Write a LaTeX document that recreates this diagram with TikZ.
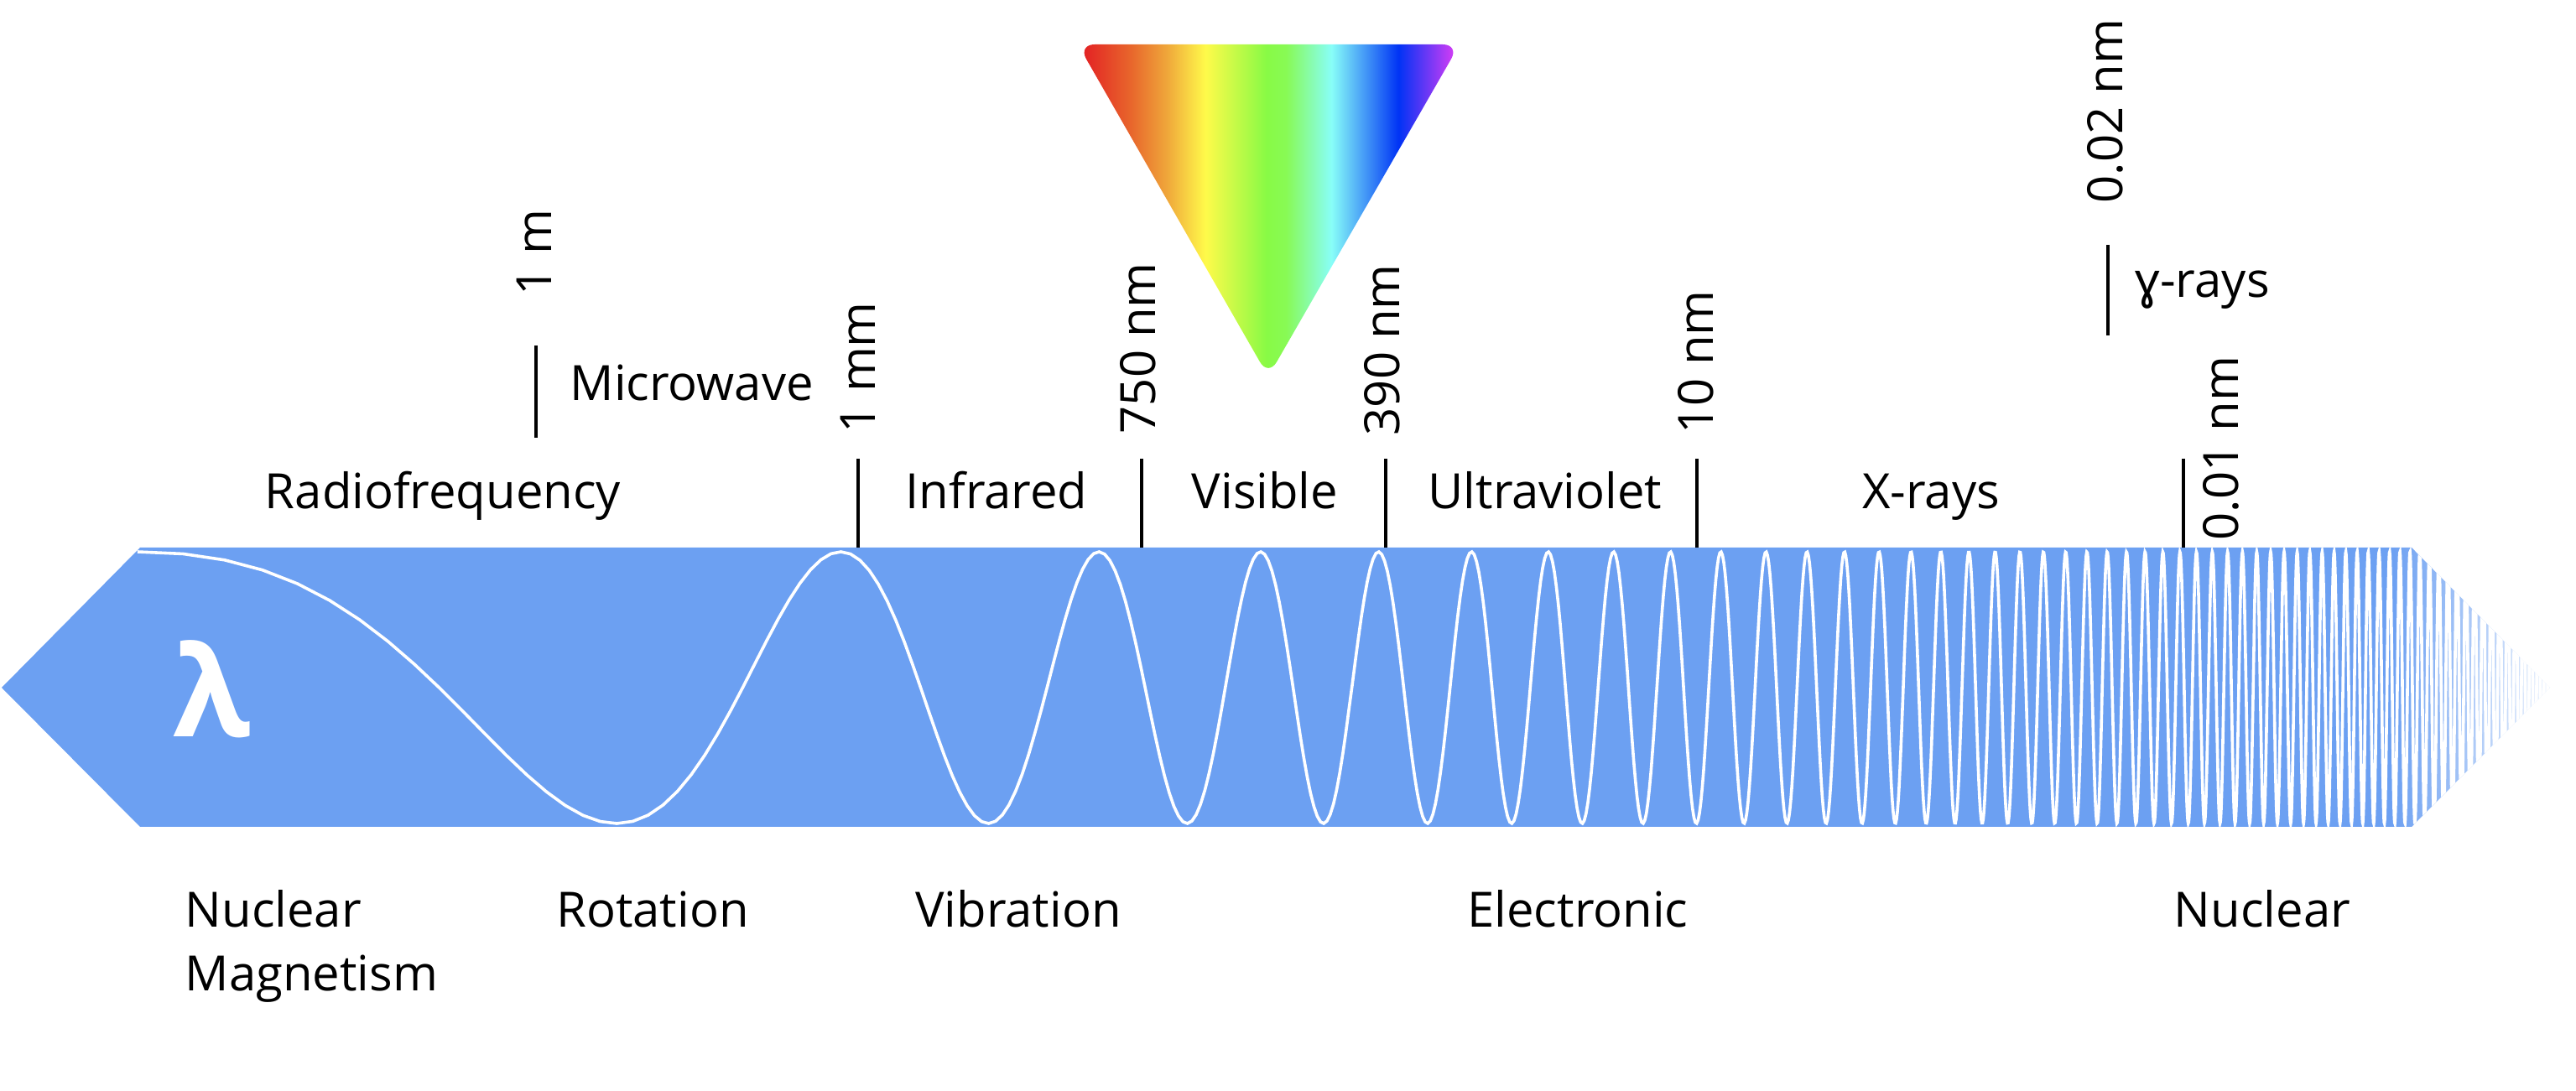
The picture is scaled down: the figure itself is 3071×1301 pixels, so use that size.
\documentclass[tikz,border=0pt]{standalone}
\usepackage{fontspec}
\setmainfont{Open Sans}
\newfontfamily\notosans{Noto Sans}
\usetikzlibrary{fadings}
\definecolor{bandblue}{HTML}{6CA0F2}
\definecolor{specred}{HTML}{E32424}
\definecolor{specorA}{HTML}{E8682C}
\definecolor{specorB}{HTML}{EFA43A}
\definecolor{specyel}{HTML}{FFFA4A}
\definecolor{specgrn}{HTML}{88FA45}
\definecolor{specgrnB}{HTML}{88FA55}
\definecolor{speccyan}{HTML}{88FEF8}
\definecolor{specblue}{HTML}{0033F5}
\definecolor{specviol}{HTML}{C83CF5}
\pgfdeclarehorizontalshading{spectrum}{100bp}{color(0bp)=(specred); color(25.9bp)=(specred); color(32.1bp)=(specorA); color(36.5bp)=(specorB); color(41.7bp)=(specyel); color(49.7bp)=(specgrn); color(52.3bp)=(specgrnB); color(58.2bp)=(speccyan); color(67bp)=(specblue); color(73.9bp)=(specviol); color(100bp)=(specviol)}
\tikzfading[name=fadeR, left color=transparent!100, right color=transparent!0]
\begin{document}
\begin{tikzpicture}[x=0.25pt, y=-0.25pt,
  lbl/.style={font=\fontsize{14.5pt}{17pt}\selectfont, inner sep=0pt, anchor=base},
  lblw/.style={lbl, anchor=base west},
  rlbl/.style={lbl, rotate=90, anchor=base west},
  tickline/.style={line width=1pt, black},
  wave/.style={white, line width=0.9pt}]
\useasboundingbox (0,0) rectangle (3071,1301);

% band
\fill[bandblue] (2,820) -- (167,653) -- (2875,653) -- (3040,820) -- (2875,986) -- (167,986) -- cycle;
\begin{scope}
  \clip (2,820) -- (167,653) -- (2875,653) -- (3040,820) -- (2875,986) -- (167,986) -- cycle;
  \draw[wave] plot[domain=0.254:61.4, samples=2200, variable=\t]
    ({883.3+525*ln(\t)}, {820-162*cos(360*mod(\t-0.254,1))});
\end{scope}
\fill[white, path fading=fadeR] (2850,640) rectangle (3071,1000);

% lambda
\node[font=\bfseries\fontsize{37.5pt}{40pt}\selectfont, text=white, inner sep=0pt] (lam) at (253,822) {λ};

% spectrum triangle
\begin{scope}
  \clip[rounded corners=5pt] (1285,53) -- (1740,53) -- (1512,449) -- cycle;
  \shade[shading=spectrum] (1285,53) rectangle (1740,449);
\end{scope}

% ticks
\draw[tickline] (639,412) -- (639,522);
\draw[tickline] (1023,547) -- (1023,653);
\draw[tickline] (1361,547) -- (1361,653);
\draw[tickline] (1652,547) -- (1652,653);
\draw[tickline] (2023,547) -- (2023,653);
\draw[tickline] (2513,292) -- (2513,400);
\draw[tickline] (2603,547) -- (2603,653);

% rotated wavelength labels
\node[rlbl] (w1m) at (657,353) {1 m};
\node[rlbl] (w1mm) at (1043,517) {1 mm};
\node[rlbl] (w750) at (1377,518) {750 nm};
\node[rlbl] (w390) at (1668,520) {390 nm};
\node[rlbl] (w10) at (2042,518) {10 nm};
\node[rlbl] (w002) at (2530,243) {0.02 nm};
\node[rlbl] (w001) at (2668,645) {0.01 nm};

% region labels
\node[lbl] (rf) at (528,607) {Radiofrequency};
\node[lblw] (mw) at (679,478) {Microwave};
\node[lbl] (ir) at (1188,607) {Infrared};
\node[lbl] (vis) at (1508,607) {Visible};
\node[lbl] (uv) at (1842,607) {Ultraviolet};
\node[lbl] (xr) at (2302,607) {X-rays};
\node[lblw] (gr) at (2545,355) {{\notosans ɣ}-rays};

% bottom labels
\node[lblw] (nm1) at (220,1106) {Nuclear};
\node[lblw] (nm2) at (220,1182) {Magnetism};
\node[lbl] (rot) at (778,1106) {Rotation};
\node[lbl] (vib) at (1214,1106) {Vibration};
\node[lbl] (el) at (1881,1106) {Electronic};
\node[lbl] (nuc) at (2697,1106) {Nuclear};
\end{tikzpicture}
\end{document}
